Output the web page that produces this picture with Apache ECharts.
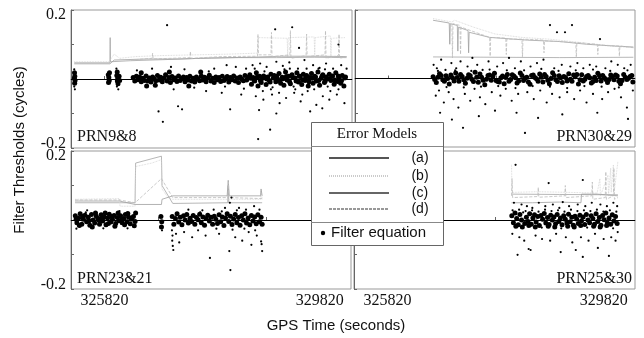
<!DOCTYPE html>
<html><head><meta charset="utf-8">
<script src="https://cdn.jsdelivr.net/npm/echarts@6/dist/echarts.min.js"></script>
<style>html,body{margin:0;padding:0;background:#fff}#c{width:644px;height:338px}</style>
</head><body><div id="c"></div>
<script>
// ---- panel names and axis tick labels ----
const panelNames = ['PRN9&8', 'PRN30&29', 'PRN23&21', 'PRN25&30'];
const xTickLabels = [325820, 329820];
const xMinorTicks = [325820, 326820, 327820, 328820, 329820];
const yTickLabels = [-0.2, 0.2];
const modelNames = ['(a)', '(b)', '(c)', '(d)'];

// ---- PRN9&8 ----
const p1_a = [[325260,0.047],[325920,0.047],[325925,0.12],[325930,0.05],[326300,0.053],[326900,0.056],[327600,0.06],[328300,0.062],[329000,0.062],[329700,0.063],[330300,0.062]];
const p1_b = [[325260,0.05],[325900,0.05],[326000,0.072],[326100,0.06],[326400,0.065],[326900,0.068],[327500,0.07],[328100,0.072],[328650,0.075],[328670,0.12],[329200,0.118],[329210,0.065],[329220,0.12],[329700,0.122],[329710,0.07],[329720,0.12],[330000,0.125],[330010,0.06],[330020,0.118],[330280,0.12]];
const p1_c = [[325260,0.044],[325920,0.044],[326000,0.055],[326600,0.058],[327200,0.058],[327800,0.061],[328500,0.063],[329100,0.066],[329800,0.066],[330300,0.065]];
const p1_d = [[326300,0.055],[326700,0.06],[326710,0.075],[326720,0.058],[327400,0.062],[327410,0.08],[327420,0.06],[328000,0.065],[328650,0.066],[328660,0.13],[328670,0.07],[328900,0.07],[328910,0.135],[328920,0.065],[329250,0.07],[329260,0.14],[329270,0.06],[329550,0.068],[329560,0.13],[329570,0.065],[329900,0.07],[329910,0.14],[329920,0.06],[330150,0.068],[330160,0.13],[330170,0.06],[330300,0.065]];
const p1_dots = [
[325260,0.028],[325265,0.018],[325270,0.008],[325262,0.002],[325275,-0.004],[325268,-0.012],[325260,-0.022],[325272,-0.03],
[325890,0.012],[325900,0.004],[325908,-0.004],[325895,-0.01],[325912,0.018],
[326040,0.03],[326055,0.02],[326048,0.01],[326065,0.002],[326058,-0.006],[326070,-0.014],[326050,-0.022],[326075,-0.03],[326090,0.008],[326100,-0.004],
[326350,0.004],[326380,-0.006],[326410,0.008],[326440,-0.002],[326470,0.006],[326500,-0.008],[326530,0.002],[326560,-0.004],[326590,0.009],[326620,-0.006],[326650,0.003],[326680,-0.009],[326710,0.006],[326740,0.0],[326770,-0.005],[326800,0.01],[326830,-0.003],[326860,0.005],[326890,-0.008],[326920,0.002],[326950,0.012],[326980,-0.006],[327010,0.004],[327040,-0.01],[327070,0.007],[327100,-0.002],[327130,0.003],[327160,-0.007],[327190,0.009],[327220,-0.004],[327250,0.001],[327280,0.006],[327310,-0.008],[327340,0.004],[327370,-0.003],[327400,0.008],[327430,-0.006],[327460,0.002],[327490,-0.009],[327520,0.006],[327550,0.0],[327580,-0.005],[327610,0.009],[327640,-0.003],[327670,0.005],[327700,-0.008],[327730,0.003],[327760,0.011],[327790,-0.006],[327820,0.002],[327850,-0.01],[327880,0.006],[327910,-0.002],[327940,0.004],[327970,-0.007],[328000,0.008],[328030,-0.004],[328060,0.001],[328090,0.007],[328120,-0.009],[328150,0.004],[328180,-0.002],[328210,0.009],[328240,-0.006],[328270,0.003],[328300,-0.01],[328330,0.006],[328360,0.0],[328390,-0.005],[328420,0.01],[328450,-0.003],[328480,0.005],
[326420,0.025],[326600,-0.02],[326700,0.03],[326820,-0.094],[326900,-0.124],[326978,0.156],[327050,0.035],[327100,-0.03],[327181,-0.079],[327255,-0.088],[327300,0.028],[327480,-0.025],[327600,0.02],[327700,-0.035],[327850,0.03],[327990,-0.04],[328080,0.04],[328145,-0.088],[328250,0.035],[328350,-0.045],[328440,0.03],
[326500,0.018],[326760,-0.018],[327020,0.02],[327380,-0.02],[327750,0.022],[328050,-0.022],[328400,-0.028],
[328510,0.012],[328540,-0.015],[328570,0.004],[328600,-0.006],[328630,0.018],[328660,-0.02],[328690,0.008],[328720,-0.01],[328750,0.002],[328780,0.022],[328810,-0.016],[328840,0.006],[328870,-0.004],[328900,0.014],[328930,-0.024],[328960,0.01],[328990,-0.008],[329020,0.001],[329050,0.016],[329080,-0.012],[329110,0.005],[329140,-0.018],[329170,0.02],[329200,-0.003],[329230,0.008],[329260,-0.014],[329290,0.012],[329320,-0.022],[329350,0.003],[329380,0.018],[329410,-0.009],[329440,0.007],[329470,-0.016],[329500,0.014],[329530,-0.004],[329560,0.01],[329590,-0.02],[329620,0.004],[329650,0.016],[329680,-0.012],[329710,0.008],[329740,-0.006],[329770,0.02],[329800,-0.018],[329830,0.002],[329860,0.012],[329890,-0.01],[329920,0.006],[329950,-0.022],[329980,0.014],[330010,-0.004],[330040,0.009],[330070,-0.015],[330100,0.018],[330130,-0.007],[330160,0.004],[330190,-0.012],[330220,0.01],[330250,-0.02],[330280,0.006],
[328525,0.002],[328585,-0.002],[328645,0.006],[328705,-0.004],[328765,0.009],[328825,0.0],[328885,-0.009],[328945,0.003],[329005,0.008],[329065,-0.005],[329125,0.001],[329185,0.007],[329245,-0.008],[329305,0.004],[329365,-0.006],[329425,0.009],[329485,-0.002],[329545,0.005],[329605,-0.008],[329665,0.002],[329725,0.006],[329785,-0.004],[329845,0.008],[329905,-0.006],[329965,0.001],[330025,0.007],[330085,-0.003],[330145,0.009],[330205,-0.005],[330265,0.003],
[328560,0.04],[328620,-0.05],[328663,-0.174],[328700,0.045],[328760,-0.06],[328820,0.035],[328885,-0.147],[328920,-0.045],[328978,0.144],[329000,0.05],[329060,-0.07],[329120,0.038],[329180,-0.055],[329240,0.048],[329293,0.15],[329330,-0.04],[329400,0.03],[329450,-0.065],[329520,0.055],[329580,-0.035],[329626,-0.094],[329680,0.04],[329740,-0.075],[329800,0.032],[329860,-0.05],[329920,0.045],[329980,-0.06],[330050,0.03],[330120,-0.045],[330200,0.04],[330260,-0.07],[328600,0.03],[328900,-0.03],[329150,0.028],[329350,-0.03],[329560,0.03],[329700,-0.03],[329900,0.028],[330150,-0.03],[328750,-0.035],[329050,-0.04],[329250,0.03],[329480,-0.045],[329780,0.03],[330000,-0.035],[330300,0.03],[328680,-0.09],[329000,-0.1],[329420,0.09],[329850,-0.085],[330150,0.1]
];

// ---- PRN30&29 ----
const p2_a = [[326650,0.063],[327800,0.062],[329000,0.061],[330370,0.062]];
const p2_b = [[326650,0.175],[327000,0.165],[327050,0.17],[327400,0.15],[327800,0.13],[328300,0.12],[328800,0.115],[329400,0.105],[329900,0.095],[330370,0.09]];
const p2_c = [[326650,0.17],[326950,0.162],[326960,0.1],[326970,0.16],[327100,0.155],[327110,0.08],[327120,0.15],[327300,0.14],[327310,0.075],[327320,0.135],[327700,0.12],[328400,0.112],[329000,0.108],[329500,0.1],[330000,0.095],[330370,0.092]];
const p2_d = [[327000,0.16],[327010,0.06],[327020,0.16],[327150,0.155],[327160,0.07],[327170,0.15],[327700,0.12],[327710,0.065],[327720,0.12],[328000,0.118],[328010,0.07],[328020,0.115],[328300,0.115],[328310,0.06],[328320,0.115],[328700,0.112],[328710,0.075],[328720,0.11],[329300,0.105],[329310,0.06],[329320,0.105],[329700,0.1],[329710,0.07],[329720,0.098],[330100,0.095],[330110,0.065],[330120,0.095],[330370,0.09]];
const p2_dots = [
[326650,0.005],[326710,-0.012],[326770,0.014],[326830,-0.004],[326890,0.008],[326950,-0.016],[327010,0.002],[327070,0.016],[327130,-0.008],[327190,0.006],[327250,-0.014],[327310,0.011],[327370,-0.002],[327430,0.018],[327490,-0.011],[327550,0.004],[327610,-0.018],[327670,0.009],[327730,-0.005],[327790,0.015],[327850,-0.009],[327910,0.002],[327970,-0.015],[328030,0.012],[328090,-0.003],[328150,0.007],[328210,-0.013],[328270,0.016],[328330,-0.006],[328390,0.004],[328450,-0.017],[328510,0.01],[328570,-0.001],[328630,0.013],[328690,-0.01],[328750,0.006],[328810,-0.015],[328870,0.017],[328930,-0.004],[328990,0.008],[329050,-0.012],[329110,0.003],[329170,0.014],[329230,-0.008],[329290,0.005],[329350,-0.016],[329410,0.011],[329470,-0.002],[329530,0.009],[329590,-0.013],[329650,0.004],[329710,0.015],[329770,-0.007],[329830,0.002],[329890,-0.012],[329950,0.01],[330010,-0.004],[330070,0.007],[330130,-0.015],[330190,0.012],[330250,-0.003],[330310,0.006],[330360,-0.01],
[326680,-0.003],[326740,0.004],[326800,0.009],[326860,-0.008],[326920,0.0],[326980,0.01],[327040,-0.007],[327100,0.003],[327160,0.012],[327220,-0.004],[327280,0.001],[327340,0.008],[327400,-0.009],[327460,0.004],[327520,0.013],[327580,-0.005],[327640,-0.002],[327700,0.01],[327760,0.006],[327820,-0.006],[327880,-0.01],[327940,0.007],[328000,0.003],[328060,-0.008],[328120,0.011],[328180,0.002],[328240,-0.007],[328300,0.009],[328360,0.001],[328420,-0.01],[328480,0.009],[328540,0.003],[328600,-0.008],[328660,0.004],[328720,0.012],[328780,-0.005],[328840,0.0],[328900,0.009],[328960,-0.009],[329020,0.002],[329080,0.006],[329140,-0.007],[329200,-0.002],[329260,0.01],[329320,0.012],[329380,-0.004],[329440,-0.007],[329500,0.006],[329560,0.002],[329620,-0.009],[329680,-0.006],[329740,0.008],[329800,0.009],[329860,-0.003],[329920,-0.003],[329980,0.005],[330040,0.01],[330100,-0.008],[330160,-0.006],[330220,0.004],[330280,0.001],[330340,0.009],
[326660,0.04],[326700,-0.05],[326720,0.03],[326760,-0.035],[326800,0.055],[326850,-0.07],[326880,0.025],[326940,-0.04],[326990,0.045],[327030,-0.06],[327080,0.03],[327120,-0.085],[327160,0.05],[327206,-0.144],[327240,-0.045],[327290,0.035],[327340,-0.065],[327380,0.06],[327420,-0.03],[327470,0.04],[327520,-0.055],[327570,0.025],[327620,-0.075],[327680,0.05],[327740,-0.04],[327800,-0.094],[327840,0.035],[327900,-0.05],[327950,0.045],[328000,-0.03],[328060,0.06],[328110,-0.065],[328170,0.03],[328230,-0.045],[328280,0.05],[328357,-0.159],[328400,-0.04],[328460,0.035],[328520,-0.06],[328580,0.045],[328640,-0.035],[328700,0.055],[328760,-0.07],[328821,0.156],[328860,-0.045],[328900,0.03],[328951,0.135],[329000,-0.055],[329040,0.04],[329100,0.135],[329140,-0.04],[329200,0.035],[329230,0.156],[329270,-0.06],[329330,0.045],[329380,-0.035],[329440,0.03],[329500,-0.07],[329560,0.04],[329620,-0.045],[329680,0.035],[329750,0.115],[329790,-0.06],[329850,0.03],[329900,-0.04],[329960,0.05],[330020,-0.03],[330080,0.04],[330140,-0.055],[330200,0.03],[330250,-0.085],[330270,-0.118],[330320,0.04],[330360,-0.035],
[326740,0.022],[326900,-0.025],[327060,0.024],[327220,-0.026],[327360,0.022],[327540,-0.024],[327700,0.026],[327860,-0.022],[328020,0.024],[328180,-0.028],[328340,0.024],[328500,-0.022],[328660,0.028],[328820,-0.024],[328980,0.022],[329140,-0.028],[329300,0.024],[329460,-0.022],[329620,0.026],[329780,-0.024],[329940,0.022],[330100,-0.026],[330260,0.024],
[326780,-0.1],[327500,-0.11],[328200,-0.1],[329050,-0.105],[329700,-0.1],[327000,-0.12],[328600,-0.115]
];

// ---- PRN23&21 ----
const p3_a = [[325274,0.05],[326100,0.05],[326390,0.05],[326400,0.165],[326880,0.185],[326890,0.1],[327090,0.048],[328110,0.05],[328120,0.1],[328130,0.05],[328750,0.05]];
const p3_b = [[325274,0.06],[326100,0.062],[326110,0.04],[326390,0.04],[326400,0.155],[326700,0.165],[326880,0.175],[326890,0.09],[327000,0.065],[327090,0.06],[328720,0.06],[328730,0.085],[328750,0.06]];
const p3_c = [[325274,0.055],[326100,0.055],[326390,0.045],[326880,0.045],[326890,0.06],[327090,0.07],[328100,0.07],[328120,0.115],[328140,0.07],[328720,0.07],[328730,0.09],[328750,0.07]];
const p3_d = [[325274,0.058],[326100,0.058],[326390,0.05],[326880,0.12],[327090,0.065],[328120,0.065],[328125,0.11],[328130,0.065],[328750,0.062]];
const p3_dots = [
[325280,0.012],[325310,-0.008],[325340,0.005],[325370,0.018],[325400,-0.012],[325430,0.002],[325460,0.014],[325490,-0.005],[325520,0.008],[325550,-0.015],[325580,0.016],[325610,0.0],[325640,-0.009],[325670,0.011],[325700,0.004],[325730,-0.012],[325760,0.015],[325790,-0.003],[325820,0.009],[325850,-0.014],[325880,0.006],[325910,0.017],[325940,-0.006],[325970,0.002],[326000,0.013],[326030,-0.01],[326060,0.007],[326090,-0.002],[326120,0.012],[326150,-0.008],[326180,0.004],[326210,0.016],[326240,-0.005],[326270,0.008],[326300,-0.011],[326330,0.003],[326360,0.01],[326390,-0.004],
[325295,0.002],[325355,-0.016],[325415,0.01],[325475,0.022],[325535,-0.002],[325595,-0.02],[325655,0.02],[325715,-0.001],[325775,0.005],[325835,0.02],[325895,-0.01],[325955,0.01],[326015,-0.018],[326075,0.02],[326135,0.0],[326195,-0.014],[326255,0.019],[326315,0.006],[326375,-0.017],
[325300,-0.025],[325500,0.028],[325800,-0.024],[326100,0.026],[326250,-0.024],[326400,0.02],
[326870,0.01],[326885,-0.005],[326880,-0.02],[326890,-0.03],
[327080,0.01],[327110,-0.012],[327140,0.004],[327170,0.018],[327200,-0.006],[327230,0.008],[327260,-0.014],[327290,0.012],[327320,0.0],[327350,0.016],[327380,-0.009],[327410,0.005],[327440,-0.004],[327470,0.013],[327500,-0.012],[327530,0.007],[327560,0.001],[327590,0.017],[327620,-0.008],[327650,0.009],[327680,-0.015],[327710,0.004],[327740,0.014],[327770,-0.003],[327800,0.008],[327830,-0.012],[327860,0.011],[327890,0.002],[327920,-0.01],[327950,0.015],[327980,-0.005],[328010,0.009],[328040,-0.016],[328070,0.006],[328100,0.018],[328130,-0.004],[328160,0.011],[328190,-0.013],[328220,0.003],[328250,0.016],[328280,-0.008],[328310,0.007],[328340,-0.015],[328370,0.012],[328400,0.0],[328430,0.018],[328460,-0.009],[328490,0.006],[328520,-0.014],[328550,0.013],[328580,-0.003],[328610,0.009],[328640,-0.011],[328670,0.015],[328700,-0.005],[328730,0.008],[328750,-0.012],
[327075,-0.03],[327085,-0.045],[327080,-0.06],[327090,-0.075],[327100,-0.087],[327150,-0.04],[327210,-0.065],[327300,-0.035],[327380,0.03],[327450,-0.05],[327560,-0.03],[327640,0.028],[327700,-0.045],[327780,-0.11],[327850,0.03],[327950,-0.04],[328060,0.035],[328150,0.05],[328180,0.065],[328140,-0.09],[328200,-0.028],[328160,-0.145],[328250,-0.05],[328320,0.035],[328380,-0.06],[328450,0.03],[328500,-0.035],[328550,-0.072],[328600,0.04],[328650,-0.045],[328700,0.03],[328740,-0.07],[328750,-0.09],[328730,-0.062],[328620,-0.03],[327900,-0.025],[327600,0.022],[328000,0.025],[328280,0.028],[328420,-0.025]
];

// ---- PRN25&30 ----
const p4_a = [[328115,0.075],[329000,0.074],[330084,0.073]];
const p4_b = [[328115,0.16],[328125,0.08],[328600,0.082],[329200,0.08],[329700,0.078],[329750,0.12],[329760,0.07],[329900,0.13],[329910,0.07],[329950,0.15],[329960,0.08],[330000,0.16],[330010,0.075],[330084,0.17]];
const p4_c = [[328115,0.05],[328500,0.05],[329000,0.052],[329400,0.05],[329410,0.075],[329700,0.075],[330084,0.07]];
const p4_d = [[328115,0.07],[328125,0.12],[328135,0.065],[328600,0.068],[328610,0.095],[328620,0.066],[329100,0.07],[329110,0.1],[329120,0.065],[329600,0.07],[329610,0.11],[329620,0.06],[329850,0.065],[329860,0.14],[329870,0.06],[330000,0.07],[330010,0.15],[330020,0.06],[330084,0.065]];
const p4_dots = [
[328120,0.012],[328150,-0.008],[328180,0.02],[328210,0.004],[328240,-0.014],[328270,0.016],[328300,0.0],[328330,0.022],[328360,-0.01],[328390,0.008],[328420,-0.004],[328450,0.018],[328480,-0.012],[328510,0.006],[328540,0.015],[328570,-0.006],[328600,0.01],[328630,-0.016],[328660,0.013],[328690,0.002],[328720,0.019],[328750,-0.009],[328780,0.007],[328810,-0.013],[328840,0.014],[328870,0.0],[328900,0.009],[328930,-0.011],[328960,0.016],[328990,-0.004],[329020,0.006],[329050,-0.014],[329080,0.012],[329110,0.002],[329140,-0.009],[329170,0.017],[329200,-0.005],[329230,0.008],[329260,-0.015],[329290,0.011],[329320,0.003],[329350,-0.01],[329380,0.014],[329410,-0.002],[329440,0.009],[329470,-0.013],[329500,0.016],[329530,0.0],[329560,-0.008],[329590,0.012],[329620,0.004],[329650,-0.012],[329680,0.018],[329710,-0.004],[329740,0.007],[329770,-0.015],[329800,0.013],[329830,0.001],[329860,0.02],[329890,-0.009],[329920,0.006],[329950,-0.012],[329980,0.015],[330010,-0.003],[330040,0.01],[330070,-0.01],
[328135,0.028],[328195,-0.018],[328255,0.03],[328315,-0.02],[328375,0.026],[328435,-0.016],[328495,0.028],[328555,-0.02],[328615,0.024],[328675,-0.022],[328735,0.03],[328795,-0.018],[328855,0.026],[328915,-0.02],[328975,0.028],[329035,-0.024],[329095,0.024],[329155,-0.018],[329215,0.03],[329275,-0.02],[329335,0.026],[329395,-0.016],[329455,0.028],[329515,-0.022],[329575,0.026],[329635,-0.018],[329695,0.03],[329755,-0.02],[329815,0.024],[329875,-0.016],[329935,0.028],[329995,-0.024],[330055,0.024],
[328130,-0.04],[328160,0.05],[328190,0.16],[328227,-0.101],[328260,-0.05],[328300,0.045],[328350,-0.06],[328400,0.04],[328432,-0.084],[328468,-0.087],[328500,0.035],[328560,-0.045],[328620,0.05],[328680,-0.055],[328740,0.04],[328802,0.107],[328830,-0.06],[328880,0.045],[328940,-0.04],[329000,0.035],[329025,-0.093],[329063,0.052],[329120,-0.05],[329180,0.04],[329240,-0.065],[329304,-0.087],[329340,0.045],[329400,-0.05],[329434,0.116],[329434,-0.107],[329480,0.04],[329540,-0.06],[329600,0.05],[329660,-0.04],[329713,-0.081],[329760,0.045],[329820,-0.055],[329880,0.04],[329917,-0.104],[329960,-0.05],[330000,0.05],[330040,-0.06],[330070,0.04],[330080,-0.035]
];

const panels = [
  {name: panelNames[0], a: p1_a, b: p1_b, c: p1_c, d: p1_d, dots: p1_dots},
  {name: panelNames[1], a: p2_a, b: p2_b, c: p2_c, d: p2_d, dots: p2_dots},
  {name: panelNames[2], a: p3_a, b: p3_b, c: p3_c, d: p3_d, dots: p3_dots},
  {name: panelNames[3], a: p4_a, b: p4_b, c: p4_c, d: p4_d, dots: p4_dots}
];

const SERIF = '"Liberation Serif","Times New Roman",serif';
const SANS = '"Liberation Sans",Arial,sans-serif';
const grids = [
  {left: 71, top: 10, width: 281, height: 138},
  {left: 355, top: 10, width: 280, height: 137},
  {left: 71, top: 151, width: 280, height: 138},
  {left: 354, top: 151, width: 281, height: 138}
];
const modelStyles = [
  {color: '#a4a4a4', type: 'solid', width: 0.8},
  {color: '#cfcfcf', type: 'dotted', width: 0.8},
  {color: '#a0a0a0', type: 'solid', width: 0.8},
  {color: '#bdbdbd', type: 'dashed', width: 0.8}
];
const legendStyles = [
  {color: '#555', type: 'solid', width: 2},
  {color: '#bbb', type: 'dotted', width: 1.5},
  {color: '#333', type: 'solid', width: 1.5},
  {color: '#777', type: 'dashed', width: 1.5}
];

const near = (v, t) => Math.abs(v - t) < 1e-9;
const xAxes = [], yAxes = [], series = [];
grids.forEach((g, i) => {
  const bottom = i >= 2, left = (i % 2) === 0;
  xAxes.push({
    type: 'value', gridIndex: i, min: 325200, max: 330400,
    splitLine: {show: false},
    axisLine: {show: true, lineStyle: {color: '#666', width: 1}},
    axisTick: {show: true, inside: true, length: 3, customValues: xMinorTicks, lineStyle: {color: '#666'}},
    axisLabel: {show: bottom, customValues: xTickLabels, margin: 4, color: '#111', fontFamily: SERIF, fontSize: 16, formatter: v => String(v)}
  });
  yAxes.push({
    type: 'value', gridIndex: i, min: -0.2, max: 0.2, interval: 0.1,
    splitLine: {show: false},
    axisLine: {show: true, lineStyle: {color: '#666', width: 1}},
    axisTick: {show: true, inside: true, length: 3, lineStyle: {color: '#666'}},
    axisLabel: {
      show: left, margin: 5, color: '#111', fontFamily: SERIF, fontSize: 16,
      formatter: v => near(v, yTickLabels[1]) ? '{hi|0.2}' : (near(v, yTickLabels[0]) ? '{lo|-0.2}' : ''),
      rich: {hi: {padding: [10, 0, 0, 0], fontFamily: SERIF, fontSize: 16, color: '#111'},
             lo: {padding: [0, 0, 9, 0], fontFamily: SERIF, fontSize: 16, color: '#111'}}
    }
  });
  const p = panels[i];
  [p.a, p.b, p.c, p.d].forEach((arr, k) => {
    series.push({
      type: 'line', name: modelNames[k], xAxisIndex: i, yAxisIndex: i, data: arr,
      showSymbol: false, symbol: 'none', silent: true, animation: false, z: 2,
      lineStyle: modelStyles[k]
    });
  });
  series.push({
    type: 'scatter', name: 'Filter equation', xAxisIndex: i, yAxisIndex: i, data: p.dots,
    symbolSize: v => Math.abs(v[1]) < 0.021 ? 5 : 2.2,
    itemStyle: {color: '#000', opacity: 1, borderWidth: 0}, silent: true, animation: false, z: 3, large: false,
    markLine: {silent: true, symbol: 'none', label: {show: false}, animation: false,
      lineStyle: {color: '#000', width: 1, type: 'solid', opacity: 1}, data: [{yAxis: 0}]}
  });
});

const gridsOpt = grids.map(g => Object.assign({show: true, borderColor: '#999', borderWidth: 1, backgroundColor: 'transparent'}, g));

const graphic = [
  {type: 'text', left: 77, top: 129, z: 10, style: {text: panelNames[0], font: '16px ' + SERIF, fill: '#111'}},
  {type: 'text', right: 12, top: 129, z: 10, style: {text: panelNames[1], font: '16px ' + SERIF, fill: '#111'}},
  {type: 'text', left: 77, top: 271, z: 10, style: {text: panelNames[2], font: '16px ' + SERIF, fill: '#111'}},
  {type: 'text', right: 12, top: 271, z: 10, style: {text: panelNames[3], font: '16px ' + SERIF, fill: '#111'}},
  {type: 'text', x: 20, y: 150, rotation: Math.PI / 2, z: 10,
   style: {text: 'Filter Thresholds (cycles)', font: '15px ' + SANS, fill: '#111', align: 'center', verticalAlign: 'middle'}},
  {type: 'text', x: 336, y: 326, z: 10,
   style: {text: 'GPS Time (seconds)', font: '15px ' + SANS, fill: '#111', align: 'center', verticalAlign: 'middle'}},
  {type: 'group', z: 20, children: [
    {type: 'rect', z: 20, shape: {x: 311.5, y: 122.5, width: 132, height: 123}, style: {fill: '#fff', stroke: '#666', lineWidth: 1}},
    {type: 'line', z: 21, shape: {x1: 311, y1: 146.5, x2: 443, y2: 146.5}, style: {stroke: '#888', lineWidth: 1}},
    {type: 'line', z: 21, shape: {x1: 311, y1: 222.5, x2: 443, y2: 222.5}, style: {stroke: '#888', lineWidth: 1}},
    {type: 'text', z: 21, x: 377, y: 134, style: {text: 'Error Models', font: '15px ' + SERIF, fill: '#111', align: 'center', verticalAlign: 'middle'}},
    ...modelNames.flatMap((m, k) => {
      const y = [158, 176, 193, 209][k];
      const ls = legendStyles[k];
      return [
        {type: 'line', z: 21, shape: {x1: 329, y1: y, x2: 389, y2: y},
         style: {stroke: ls.color, lineWidth: ls.width, lineDash: ls.type === 'dotted' ? [1, 1] : (ls.type === 'dashed' ? [3, 1] : null)}},
        {type: 'text', z: 21, x: 420, y: y, style: {text: m, font: '14px ' + SANS, fill: '#111', align: 'center', verticalAlign: 'middle'}}
      ];
    }),
    {type: 'circle', z: 21, shape: {cx: 323, cy: 233, r: 2.2}, style: {fill: '#000'}},
    {type: 'text', z: 21, x: 331, y: 233, style: {text: 'Filter equation', font: '15px ' + SANS, fill: '#111', align: 'left', verticalAlign: 'middle'}}
  ]}
];

const chart = echarts.init(document.getElementById('c'), null, {renderer: 'canvas'});
chart.setOption({
  animation: false,
  backgroundColor: '#fff',
  grid: gridsOpt,
  xAxis: xAxes,
  yAxis: yAxes,
  series: series,
  graphic: graphic
});
</script></body></html>
